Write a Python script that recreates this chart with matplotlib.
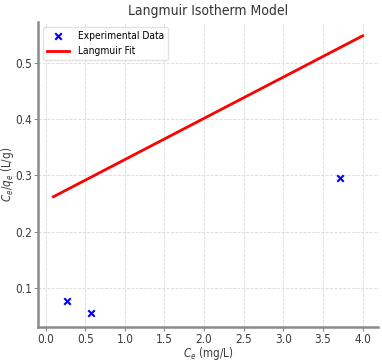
import matplotlib
matplotlib.use("Agg")
import matplotlib.pyplot as plt
import numpy as np

ce_exp = [0.27, 0.57, 3.72]
ce_qe_exp = [0.077, 0.055, 0.296]
ce_fit = [0.1, 4.0]
ce_qe_fit = [0.262, 0.548]

plt.rcParams['font.family'] = 'DejaVu Sans'
plt.rcParams['font.stretch'] = 'condensed'
plt.rcParams['mathtext.fontset'] = 'custom'
plt.rcParams['mathtext.rm'] = 'DejaVu Sans:stretch=condensed'
plt.rcParams['mathtext.it'] = 'DejaVu Sans:italic:stretch=condensed'

W, H = 382, 362
fig = plt.figure(figsize=(W/100, H/100), dpi=100)
ax = fig.add_axes([38/W, 1-327/H, (378-38)/W, (327-22)/H])

ax.scatter(ce_exp, ce_qe_exp, color='blue', marker='x', s=22, linewidths=1.5, label='Experimental Data', zorder=3)
ax.plot(ce_fit, ce_qe_fit, color='red', linewidth=2, label='Langmuir Fit')

ax.set_xticks(np.arange(0, 4.01, 0.5))
ax.set_yticks([0.1, 0.2, 0.3, 0.4, 0.5])
ax.grid(True, linestyle='--', color='#d9d9d9', linewidth=0.6)
for s in ['top', 'right']:
    ax.spines[s].set_visible(False)
for s in ['left', 'bottom']:
    ax.spines[s].set_color('#8a8a8a')
    ax.spines[s].set_linewidth(1.8)
ax.tick_params(colors='#3a3a3a', labelsize=8.5, length=3, pad=1.5, color='#8a8a8a')
ax.set_xlabel('$C_e$ (mg/L)', fontsize=8.3, color='#3a3a3a')
ax.set_ylabel('$C_e/q_e$ (L/g)', fontsize=8.3, color='#3a3a3a')
ax.xaxis.set_label_coords(0.5, (327-345)/305)
ax.yaxis.set_label_coords((16-38)/340, 0.5)
ax.set_title('Langmuir Isotherm Model', fontsize=10, color='#333333', pad=5)
leg = ax.legend(loc='upper left', fontsize=7.3, frameon=True, handlelength=2.2)
leg.get_frame().set_edgecolor('#dddddd')

fig.savefig('out.png', dpi=100)
